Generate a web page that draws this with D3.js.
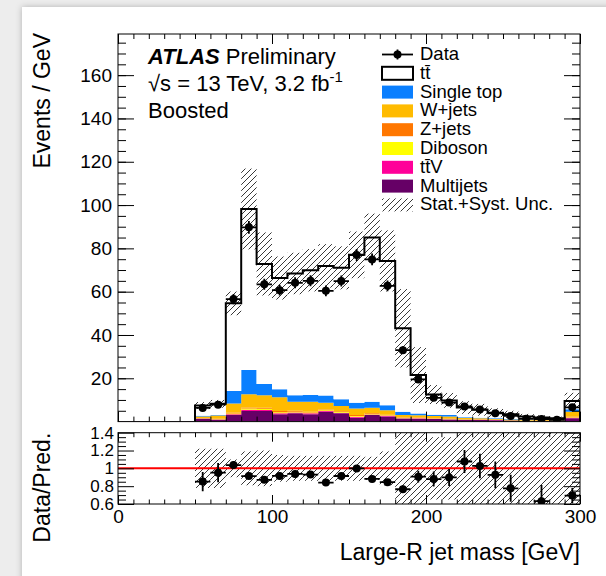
<!DOCTYPE html>
<html>
<head>
<meta charset="utf-8">
<script src="https://cdn.jsdelivr.net/npm/d3@7"></script>
<style>
  html, body { margin: 0; padding: 0; background: #ededed; }
  svg { display: block; font-family: "Liberation Sans", Arial, Helvetica, sans-serif; }
</style>
</head>
<body>
<div id="chart"></div>
<script>
// lower bin edges [GeV], 10 GeV bins, last bin holds the overflow
const binLow = [0, 10, 20, 30, 40, 50, 60, 70, 80, 90, 100, 110, 120, 130, 140,
    150, 160, 170, 180, 190, 200, 210, 220, 230, 240, 250, 260, 270, 280, 290];
const binWidth = 10;

// predictions, events / GeV
const ttbar = [0, 0, 0, 0, 0, 4.7, 5.2, 40.5, 74.4, 55.4, 51.4, 56.2, 57.6, 59.9, 60.7,
    68.3, 75.8, 66.6, 38.5, 17.8, 9.3, 6.8, 4.5, 3.65, 2.6, 2.15, 1.3, 1.1, 0.75, 3.8];
const singleTop = [0, 0, 0, 0, 0, 0.4, 0.2, 5.7, 11.2, 5.2, 3.6, 3.0, 3.1, 3.3, 3.1,
    2.6, 2.8, 2.4, 1.5, 0.8, 0.6, 0.6, 0.3, 0.3, 0.25, 0.2, 0.15, 0.1, 0.1, 1.1];
const wJets = [0, 0, 0, 0, 0, 0.6, 1.5, 4.2, 6.1, 5.8, 6.4, 4.2, 4.6, 3.1, 2.4,
    3.1, 2.4, 2.0, 1.1, 1.0, 1.0, 1.0, 0.6, 0.5, 0.4, 0.3, 0.3, 0.25, 0.2, 2.3];
const zJets = [0, 0, 0, 0, 0, 0.2, 0.2, 0.5, 0.5, 0.5, 0.6, 0.4, 0.4, 0.4, 0.4,
    0.4, 0.4, 0.3, 0.2, 0.2, 0.2, 0.2, 0.1, 0.1, 0.1, 0.1, 0.05, 0.05, 0.05, 0.3];
const diboson = [0, 0, 0, 0, 0, 0.1, 0.1, 0.3, 0.5, 0.5, 0.4, 0.4, 0.4, 0.3, 0.3,
    0.4, 0.3, 0.2, 0.2, 0.2, 0.1, 0.1, 0.1, 0.1, 0.05, 0.05, 0.05, 0.05, 0.05, 0.2];
const ttV = [0, 0, 0, 0, 0, 0.1, 0.1, 0.4, 0.6, 0.5, 0.5, 0.4, 0.4, 0.3, 0.3,
    0.4, 0.3, 0.3, 0.2, 0.2, 0.1, 0.1, 0.1, 0.1, 0.1, 0.05, 0.05, 0.05, 0.05, 0.3];
const multijets = [0.3, 0.3, 0.3, 0.3, 0.3, 1.3, 0.9, 3.0, 4.9, 4.9, 3.4, 3.8, 3.4, 4.6, 3.8,
    1.8, 3.0, 2.4, 1.4, 1.3, 1.2, 1.0, 0.8, 0.7, 0.6, 0.5, 0.4, 0.3, 0.3, 1.5];

// relative stat.+syst. uncertainty on the total prediction
const relUnc = [0, 0, 0, 0, 0, 0.22, 0.22, 0.1, 0.19, 0.2, 0.15, 0.14, 0.14, 0.14, 0.14,
    0.14, 0.13, 0.19, 0.42, 0.6, 0.35, 0.35, 0.45, 0.5, 0.5, 0.5, 0.55, 0.55, 0.55, 0.4];

// observed, events / GeV
const dataVals = [null, null, null, null, null, 6.3, 7.8, 56.6, 89.7, 63.4, 60.7, 64.1, 65.0, 60.4, 64.9,
    76.9, 74.9, 62.7, 33.0, 19.5, 11.0, 8.8, 7.0, 5.6, 3.8, 2.6, 1.3, 1.2, 0.8, 6.6];

// stack order, bottom to top
const samples = [
    {key: "multijets", label: "Multijets", values: multijets, color: "#660066"},
    {key: "ttV", label: "tt\u0304V", values: ttV, color: "#ff0099"},
    {key: "diboson", label: "Diboson", values: diboson, color: "#ffff00"},
    {key: "zJets", label: "Z+jets", values: zJets, color: "#ff7700"},
    {key: "wJets", label: "W+jets", values: wJets, color: "#ffbb00"},
    {key: "singleTop", label: "Single top", values: singleTop, color: "#0a7fff"},
    {key: "ttbar", label: "tt\u0304", values: ttbar, color: "#ffffff"},
];

const W = 606, H = 576;
const left = 118, right = 580;
const mainTop = 34, mainBottom = 421.6;
const ratioTop = 432.7, ratioBottom = 504;

const svg = d3.select("#chart").append("svg")
    .attr("width", W)
    .attr("height", H);

const defs = svg.append("defs");
const shadow = defs.append("filter").attr("id", "shadow")
    .attr("x", "-10%").attr("y", "-10%").attr("width", "120%").attr("height", "120%");
shadow.append("feDropShadow").attr("dx", 0).attr("dy", 0)
    .attr("stdDeviation", 3).attr("flood-color", "#000").attr("flood-opacity", 0.25);

const hatch = defs.append("pattern").attr("id", "hatch")
    .attr("patternUnits", "userSpaceOnUse")
    .attr("width", 6).attr("height", 6);
hatch.append("path")
    .attr("d", "M0,6 L6,0 M-1,1 L1,-1 M5,7 L7,5")
    .attr("stroke", "#222").attr("stroke-width", 0.9);

defs.append("clipPath").attr("id", "clipMain").append("rect")
    .attr("x", left).attr("y", mainTop).attr("width", right - left).attr("height", mainBottom - mainTop);
defs.append("clipPath").attr("id", "clipRatio").append("rect")
    .attr("x", left).attr("y", ratioTop).attr("width", right - left).attr("height", ratioBottom - ratioTop);

// page
svg.append("rect").attr("x", 22).attr("y", 7).attr("width", W).attr("height", H)
    .attr("fill", "#fff").attr("filter", "url(#shadow)");

const x = d3.scaleLinear().domain([0, 300]).range([left, right]);
const y = d3.scaleLinear().domain([0, 179]).range([mainBottom, mainTop]);
const yr = d3.scaleLinear().domain([0.6, 1.4]).range([ratioBottom, ratioTop]);

const table = binLow.map((lo, i) => {
    const row = {lo: lo};
    samples.forEach(s => { row[s.key] = s.values[i]; });
    return row;
});
const total = table.map(row => d3.sum(samples, s => row[s.key]));

const stack = d3.stack().keys(samples.map(s => s.key));
const layers = stack(table);

const area = d3.area()
    .x(d => x(d.x))
    .y0(d => y(d.y0))
    .y1(d => y(d.y1))
    .curve(d3.curveStepAfter);

const main = svg.append("g").attr("clip-path", "url(#clipMain)");

// stacked histograms
main.selectAll("path.layer")
    .data(layers)
    .join("path")
    .attr("class", "layer")
    .attr("fill", (d, i) => samples[i].color)
    .attr("d", layer => {
        const pts = layer.map((v, j) => ({x: binLow[j], y0: v[0], y1: v[1]}));
        const last = layer[layer.length - 1];
        pts.push({x: 300, y0: last[0], y1: last[1]});
        return area(pts);
    });

// uncertainty band
main.selectAll("rect.unc")
    .data(binLow.map((lo, i) => ({lo, tot: total[i], u: relUnc[i]})).filter(d => d.u > 0))
    .join("rect")
    .attr("class", "unc")
    .attr("x", d => x(d.lo))
    .attr("width", d => x(d.lo + binWidth) - x(d.lo))
    .attr("y", d => y(d.tot * (1 + d.u)))
    .attr("height", d => y(d.tot * (1 - d.u)) - y(d.tot * (1 + d.u)))
    .attr("fill", "url(#hatch)");

// outline of the total prediction
const firstBin = ttbar.findIndex(v => v > 0);
const outlinePts = [{x: binLow[firstBin], y: 0}];
for (let i = firstBin; i < binLow.length; i++) outlinePts.push({x: binLow[i], y: total[i]});
outlinePts.push({x: 300, y: total[total.length - 1]});
outlinePts.push({x: 300, y: 0});
main.append("path")
    .attr("d", d3.line().x(d => x(d.x)).y(d => y(d.y)).curve(d3.curveStepAfter)(outlinePts))
    .attr("fill", "none")
    .attr("stroke", "#000")
    .attr("stroke-width", 2);

// data points with Poisson errors
const points = binLow.map((lo, i) => {
    if (dataVals[i] === null) return null;
    const n = dataVals[i] * binWidth;
    return {c: lo + binWidth / 2, lo: lo, v: dataVals[i], err: Math.sqrt(n) / binWidth, tot: total[i]};
}).filter(d => d);

function drawPoints(g, pts, yScale, val, err) {
    const pg = g.selectAll("g.pt").data(pts).join("g").attr("class", "pt");
    pg.append("line")
        .attr("x1", d => x(d.lo)).attr("x2", d => x(d.lo + binWidth))
        .attr("y1", d => yScale(val(d))).attr("y2", d => yScale(val(d)))
        .attr("stroke", "#000").attr("stroke-width", 1.8);
    pg.append("line")
        .attr("x1", d => x(d.c)).attr("x2", d => x(d.c))
        .attr("y1", d => yScale(val(d) - err(d))).attr("y2", d => yScale(val(d) + err(d)))
        .attr("stroke", "#000").attr("stroke-width", 1.8);
    pg.append("circle")
        .attr("cx", d => x(d.c)).attr("cy", d => yScale(val(d)))
        .attr("r", 4).attr("fill", "#000");
}
drawPoints(main, points, y, d => d.v, d => d.err);

// ratio panel
const ratio = svg.append("g").attr("clip-path", "url(#clipRatio)");
ratio.selectAll("rect.unc")
    .data(binLow.map((lo, i) => ({lo, u: relUnc[i]})).filter(d => d.u > 0))
    .join("rect")
    .attr("class", "unc")
    .attr("x", d => x(d.lo))
    .attr("width", d => x(d.lo + binWidth) - x(d.lo))
    .attr("y", d => yr(1 + d.u))
    .attr("height", d => yr(1 - d.u) - yr(1 + d.u))
    .attr("fill", "url(#hatch)");
ratio.append("line")
    .attr("x1", left).attr("x2", right)
    .attr("y1", yr(1)).attr("y2", yr(1))
    .attr("stroke", "#ff0000").attr("stroke-width", 2);
const ratioPts = points.filter(d => d.v / d.tot >= 0.6);
drawPoints(ratio, ratioPts, yr, d => d.v / d.tot, d => d.err / d.tot);

// frames and ticks
function frame(top, bottom) {
    svg.append("rect")
        .attr("x", left).attr("y", top)
        .attr("width", right - left).attr("height", bottom - top)
        .attr("fill", "none").attr("stroke", "#000").attr("stroke-width", 1);
}
frame(mainTop, mainBottom);
frame(ratioTop, ratioBottom);

function addAxis(axis, tx, ty, fontSize) {
    const g = svg.append("g").attr("transform", `translate(${tx},${ty})`).call(axis);
    g.select(".domain").remove();
    g.selectAll("line").attr("stroke", "#000");
    g.selectAll("text").attr("font-size", fontSize).attr("fill", "#000")
        .attr("font-family", "Liberation Sans, Arial, sans-serif");
    return g;
}

const xMajor = [0, 100, 200, 300];
const xMinor = binLow.concat([300]);

// main panel x ticks (no labels)
addAxis(d3.axisBottom(x).tickValues(xMajor).tickSize(-10).tickFormat(""), 0, mainBottom, 0);
addAxis(d3.axisBottom(x).tickValues(xMinor).tickSize(-5).tickFormat(""), 0, mainBottom, 0);
addAxis(d3.axisTop(x).tickValues(xMajor).tickSize(-10).tickFormat(""), 0, mainTop, 0);
addAxis(d3.axisTop(x).tickValues(xMinor).tickSize(-5).tickFormat(""), 0, mainTop, 0);

// main panel y ticks
const yMajor = [20, 40, 60, 80, 100, 120, 140, 160];
const yMinor = d3.range(5, 179, 5);
addAxis(d3.axisLeft(y).tickValues(yMajor).tickSize(-16).tickPadding(6), left, 0, 19);
addAxis(d3.axisLeft(y).tickValues(yMinor).tickSize(-8).tickFormat(""), left, 0, 0);
addAxis(d3.axisRight(y).tickValues(yMajor).tickSize(-16).tickFormat(""), right, 0, 0);
addAxis(d3.axisRight(y).tickValues(yMinor).tickSize(-8).tickFormat(""), right, 0, 0);

// ratio panel ticks
addAxis(d3.axisBottom(x).tickValues(xMajor).tickSize(-9).tickPadding(6), 0, ratioBottom, 19);
addAxis(d3.axisBottom(x).tickValues(xMinor).tickSize(-4.5).tickFormat(""), 0, ratioBottom, 0);
addAxis(d3.axisTop(x).tickValues(xMajor).tickSize(-9).tickFormat(""), 0, ratioTop, 0);
addAxis(d3.axisTop(x).tickValues(xMinor).tickSize(-4.5).tickFormat(""), 0, ratioTop, 0);

const rMajor = [0.6, 0.8, 1, 1.2, 1.4];
const rMinor = [0.65, 0.7, 0.75, 0.85, 0.9, 0.95, 1.05, 1.1, 1.15, 1.25, 1.3, 1.35];
const rFormat = d => d === 1 ? "1" : d3.format(".1f")(d);
addAxis(d3.axisLeft(yr).tickValues(rMajor).tickSize(-16).tickPadding(4).tickFormat(rFormat), left, 0, 17);
addAxis(d3.axisLeft(yr).tickValues(rMinor).tickSize(-8).tickFormat(""), left, 0, 0);
addAxis(d3.axisRight(yr).tickValues(rMajor).tickSize(-16).tickFormat(""), right, 0, 0);
addAxis(d3.axisRight(yr).tickValues(rMinor).tickSize(-8).tickFormat(""), right, 0, 0);

// axis titles
svg.append("text")
    .attr("transform", "translate(50,33) rotate(-90)")
    .attr("text-anchor", "end")
    .attr("font-size", 23)
    .text("Events / GeV");
svg.append("text")
    .attr("transform", `translate(50,${ratioTop}) rotate(-90)`)
    .attr("text-anchor", "end")
    .attr("font-size", 23)
    .text("Data/Pred.");
svg.append("text")
    .attr("x", right).attr("y", 560)
    .attr("text-anchor", "end")
    .attr("font-size", 23)
    .text("Large-R jet mass [GeV]");

// ATLAS label block
const atlas = svg.append("text").attr("x", 148).attr("y", 64).attr("font-size", 22);
atlas.append("tspan").attr("font-weight", "bold").attr("font-style", "italic").text("ATLAS");
atlas.append("tspan").attr("dx", 6).text("Preliminary");

const lumi = svg.append("text").attr("x", 148).attr("y", 91).attr("font-size", 22);
lumi.append("tspan").text("\u221As = 13 TeV, 3.2 fb");
lumi.append("tspan").attr("font-size", 15).attr("dy", -9).text("-1");

svg.append("text").attr("x", 148).attr("y", 118).attr("font-size", 22).text("Boosted");

// legend
const legX = 382, legW = 31, legH = 13, textX = 420, row0 = 60, rowStep = 18.8;
const legendItems = [
    {label: "Data", type: "data"},
    {label: "tt\u0304", type: "box", fill: "#fff", stroke: "#000"},
    ...samples.slice(0, 6).reverse().map(s => ({label: s.label, type: "box", fill: s.color})),
    {label: "Stat.+Syst. Unc.", type: "box", fill: "url(#hatch)"},
];
const leg = svg.append("g");
legendItems.forEach((item, i) => {
    const base = row0 + i * rowStep;
    const cy = base - 5.5;
    if (item.type === "data") {
        leg.append("line").attr("x1", legX).attr("x2", legX + legW)
            .attr("y1", cy).attr("y2", cy).attr("stroke", "#000").attr("stroke-width", 1.8);
        leg.append("line").attr("x1", legX + legW / 2).attr("x2", legX + legW / 2)
            .attr("y1", cy - 5).attr("y2", cy + 5).attr("stroke", "#000").attr("stroke-width", 1.8);
        leg.append("circle").attr("cx", legX + legW / 2).attr("cy", cy).attr("r", 4).attr("fill", "#000");
    } else {
        leg.append("rect")
            .attr("x", legX).attr("y", cy - legH / 2)
            .attr("width", legW).attr("height", legH)
            .attr("fill", item.fill)
            .attr("stroke", item.stroke || "none")
            .attr("stroke-width", 2);
    }
    leg.append("text").attr("x", textX).attr("y", base)
        .attr("font-size", 18.5).text(item.label);
});
</script>
</body>
</html>
